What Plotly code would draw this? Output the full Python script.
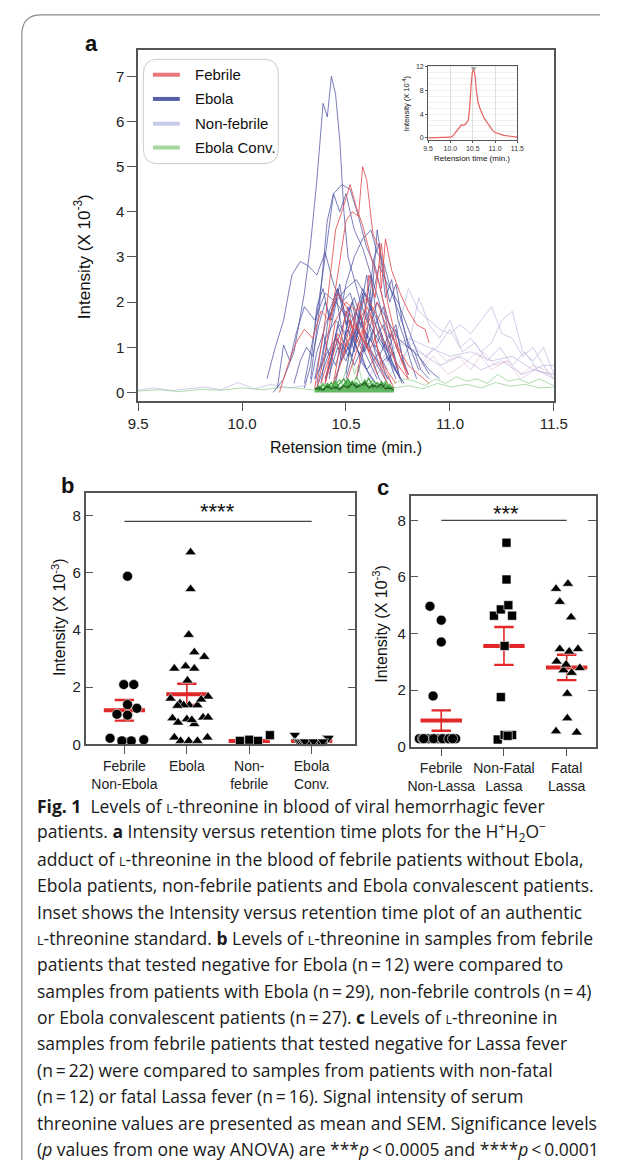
import plotly.graph_objects as go

# The page body keeps its default 8px margin, so the figure is 16px smaller than the window
# and every reference-pixel position is shifted by that margin.
PAGE_W, PAGE_H, BODY_M = 622, 1176, 8
W, H = PAGE_W - 2 * BODY_M, PAGE_H - 2 * BODY_M
def px(x): return (x - BODY_M) / W
def py(y): return 1 - (y - BODY_M) / H

# ---------------- Panel a data (retention time, intensity x10^-3) ----------------
EBOLA_TRACES = [
    ([10.15,10.20,10.25,10.30,10.33,10.36,10.39,10.41,10.43,10.45,10.47,10.49,10.51,10.54,10.57,10.60,10.65,10.70,10.75],
     [0.0,0.3,0.9,2.2,3.3,4.7,6.4,6.1,7.0,6.6,5.6,4.0,3.0,2.5,2.0,1.6,1.2,0.8,0.4]),
    ([10.30,10.35,10.40,10.44,10.48,10.52,10.56,10.60,10.64,10.68,10.72,10.76,10.80],
     [0.2,1.4,3.0,4.4,4.6,4.5,3.9,3.2,2.8,2.0,1.3,0.8,0.4]),
    ([10.33,10.37,10.41,10.44,10.47,10.50,10.54,10.58,10.62,10.66,10.70,10.75],
     [0.3,1.8,3.8,4.4,4.0,4.4,3.6,3.2,2.6,2.0,1.2,0.5]),
    ([10.12,10.16,10.20,10.24,10.28,10.32,10.36,10.40,10.44,10.48,10.52,10.56,10.60,10.65,10.70],
     [0.3,1.0,1.6,2.6,2.9,2.8,2.6,3.1,2.4,2.0,2.2,1.6,1.3,0.9,0.5]),
    ([10.40,10.45,10.50,10.54,10.58,10.62,10.65,10.68,10.72,10.76,10.80,10.85],
     [0.2,1.2,2.4,3.0,3.4,3.6,3.1,2.9,2.2,1.7,1.1,0.5]),
    ([10.35,10.40,10.45,10.50,10.55,10.60,10.65,10.70,10.75],
     [0.3,1.5,2.0,2.3,2.5,2.1,1.6,0.9,0.4]),
    ([10.17,10.20,10.23,10.26,10.30,10.35,10.40,10.45,10.50,10.55,10.60,10.65],
     [0.1,1.05,0.7,1.3,1.9,1.6,2.2,2.0,1.7,1.3,0.8,0.3]),
    ([10.38,10.42,10.46,10.50,10.54,10.58,10.62,10.66,10.70,10.74,10.78],
     [0.5,1.8,2.3,1.7,2.1,1.5,1.9,1.2,0.9,1.4,0.6]),
    ([10.36,10.40,10.45,10.50,10.55,10.60,10.65,10.70],
     [0.2,1.2,1.6,1.3,1.8,1.1,0.7,0.3]),
    ([10.40,10.44,10.48,10.52,10.56,10.60,10.64,10.68,10.72,10.76],
     [0.3,0.9,1.4,1.0,1.6,2.6,1.2,1.5,0.7,0.3]),
    ([10.50,10.54,10.58,10.62,10.66,10.70,10.75,10.80,10.85,10.90],
     [0.4,1.6,2.3,2.0,2.8,2.4,2.0,1.4,0.8,0.4]),
    ([10.35,10.40,10.45,10.50,10.55,10.60,10.65,10.70],
     [0.3,0.8,1.2,0.9,1.4,1.0,0.6,0.2]),
    ([10.42,10.46,10.50,10.54,10.58,10.62,10.66,10.70,10.74],
     [0.4,1.0,0.7,1.3,0.9,1.2,0.6,0.8,0.3]),
    ([10.55,10.60,10.65,10.70,10.75,10.80,10.85,10.90,10.95],
     [0.3,1.2,2.0,1.6,1.2,1.0,0.8,0.5,0.3]),
    ([10.30,10.33,10.36,10.39,10.42,10.45,10.48,10.51,10.54,10.57,10.60,10.63,10.66,10.69,10.72,10.75,10.78],
     [0.1,0.6,1.9,2.3,1.6,2.2,1.4,1.9,1.2,1.7,1.0,1.4,0.8,1.1,0.6,0.4,0.2]),
    ([10.38,10.41,10.44,10.47,10.50,10.53,10.56,10.59,10.62,10.65,10.68,10.71,10.74,10.77,10.80],
     [0.2,1.1,1.7,2.4,1.5,2.0,1.3,1.8,2.6,1.6,1.9,1.2,1.5,0.8,0.4]),
    ([10.40,10.43,10.46,10.49,10.52,10.55,10.58,10.61,10.64,10.67,10.70,10.73,10.76],
     [0.3,0.8,1.5,1.1,1.9,1.4,2.2,1.5,1.0,1.3,0.7,0.9,0.3]),
    ([10.45,10.48,10.51,10.54,10.57,10.60,10.63,10.66,10.69,10.72,10.75,10.78,10.81,10.84],
     [0.2,0.9,1.4,0.9,1.7,1.2,2.9,3.3,2.1,2.5,1.6,1.2,0.7,0.3]),
    ([10.33,10.36,10.39,10.42,10.45,10.48,10.51,10.54,10.57,10.60,10.63,10.66,10.70],
     [0.2,0.9,1.3,0.8,1.2,0.7,1.0,0.6,0.9,0.5,0.7,0.3,0.1]),
    ([10.25,10.28,10.31,10.34,10.37,10.40,10.43,10.46,10.49,10.52,10.55,10.58,10.61,10.64],
     [0.2,0.7,1.0,0.8,1.5,2.0,1.6,2.3,1.7,1.3,1.0,0.7,0.4,0.2]),
    ([10.50,10.53,10.56,10.59,10.62,10.65,10.68,10.71,10.74,10.77,10.80,10.83,10.86,10.90],
     [0.3,0.8,1.5,2.2,1.8,3.6,2.7,2.0,2.4,1.6,1.0,0.9,0.5,0.3]),
    ([10.42,10.45,10.48,10.51,10.54,10.57,10.60,10.63,10.66,10.69,10.72],
     [0.3,1.3,0.9,1.6,1.1,0.8,1.3,0.7,0.9,0.4,0.2]),
    ([10.44,10.47,10.50,10.53,10.56,10.59,10.62,10.65,10.68,10.71,10.74,10.77],
     [0.2,0.6,1.1,0.8,1.4,0.9,1.2,1.6,1.0,1.3,0.6,0.2]),
    ([10.36,10.39,10.42,10.45,10.48,10.51,10.54,10.57,10.60,10.63,10.66],
     [0.1,0.5,0.9,0.6,1.1,0.8,1.2,0.7,0.5,0.3,0.1]),
]
FEBRILE_TRACES = [
    ([10.36,10.40,10.45,10.50,10.53,10.56,10.58,10.60,10.63,10.66,10.67,10.69,10.72,10.76,10.80,10.84,10.88,10.90],
     [0.1,0.9,2.3,3.8,4.0,3.9,5.0,4.7,3.5,3.2,2.3,3.4,2.7,2.2,1.8,1.5,1.4,1.1]),
    ([10.35,10.40,10.45,10.48,10.52,10.55,10.58,10.62,10.66,10.70,10.75,10.80],
     [0.1,1.6,3.6,4.0,4.6,4.1,3.7,3.0,2.4,1.6,0.9,0.4]),
    ([10.18,10.22,10.26,10.30,10.34,10.38,10.42,10.46,10.50,10.55,10.60,10.65],
     [0.0,0.6,1.1,1.4,1.2,1.8,1.6,2.2,1.9,1.5,1.0,0.4]),
    ([10.40,10.45,10.50,10.55,10.60,10.65,10.70,10.75],
     [0.2,1.6,2.0,1.8,2.1,1.7,1.2,0.5]),
    ([10.45,10.50,10.55,10.60,10.65,10.70,10.75,10.80],
     [0.3,1.0,1.5,1.9,1.4,1.0,0.6,0.3]),
    ([10.38,10.42,10.46,10.50,10.54,10.58,10.62,10.66,10.70],
     [0.2,0.8,1.3,1.0,1.5,1.2,0.9,0.6,0.2]),
    ([10.50,10.55,10.60,10.65,10.70,10.75,10.80,10.85,10.90],
     [0.2,0.9,1.6,2.0,1.4,1.0,0.6,0.4,0.2]),
    ([10.40,10.43,10.46,10.49,10.52,10.55,10.58,10.61,10.64,10.67,10.70,10.73],
     [0.2,0.7,1.2,0.8,1.6,1.1,1.4,0.9,1.2,0.6,0.4,0.1]),
    ([10.44,10.47,10.50,10.53,10.56,10.59,10.62,10.65,10.68,10.71,10.74],
     [0.2,1.0,1.8,1.4,2.0,1.3,1.7,1.0,0.6,0.4,0.2]),
    ([10.55,10.58,10.61,10.64,10.67,10.70,10.73,10.76,10.80],
     [0.3,1.1,2.6,2.1,3.3,2.0,1.4,0.8,0.3]),
]
NONFEBRILE_TRACES = [
    ([10.70,10.75,10.80,10.85,10.90,10.95,11.00,11.05,11.10,11.15,11.20,11.25,11.30,11.35,11.40,11.45,11.50],
     [0.6,1.4,2.3,1.8,1.6,1.4,1.3,1.5,1.3,1.6,1.9,1.3,1.2,0.8,1.0,0.6,0.6]),
    ([10.75,10.80,10.85,10.90,10.95,11.00,11.05,11.10,11.15,11.20,11.25,11.30,11.35,11.40,11.45,11.50],
     [0.5,1.0,2.1,1.5,1.2,1.6,1.0,1.2,0.9,1.1,1.6,1.8,0.9,0.7,1.0,0.4]),
    ([10.60,10.70,10.80,10.90,11.00,11.10,11.20,11.30,11.40,11.50],
     [0.3,0.9,1.2,1.0,0.8,0.9,0.7,0.8,0.5,0.4]),
    ([10.65,10.75,10.85,10.95,11.05,11.15,11.25,11.35,11.45,11.50],
     [0.4,1.1,0.9,0.6,0.8,0.5,0.7,0.4,0.6,0.3]),
    ([10.70,10.76,10.82,10.88,10.94,11.00,11.06,11.12,11.18,11.24,11.30,11.36,11.42,11.50],
     [0.3,0.7,1.1,0.8,1.0,1.4,0.9,1.1,0.7,1.0,0.6,0.9,0.5,0.3]),
    ([9.50,9.58,9.66,9.74,9.82,9.90,9.98,10.06,10.14,10.22,10.30],
     [0.05,0.10,0.04,0.08,0.12,0.06,0.22,0.08,0.18,0.10,0.15]),
]
TAIL_TRACES = [
    ([10.80,10.86,10.92,10.98,11.04,11.10,11.16,11.22,11.28,11.34,11.40,11.46,11.50],
     [0.9,0.6,1.0,0.7,0.8,0.5,0.9,0.6,0.7,0.4,0.6,0.5,0.3]),
    ([10.85,10.92,10.99,11.06,11.13,11.20,11.27,11.34,11.41,11.48],
     [0.5,0.8,0.4,0.6,0.9,0.5,0.7,0.3,0.5,0.4]),
]
CONV_TRACES = [
    ([9.50,9.60,9.70,9.80,9.90,10.00,10.10,10.20,10.30,10.35],
     [0.03,0.06,0.02,0.07,0.05,0.10,0.06,0.12,0.08,0.05]),
    ([10.73,10.78,10.83,10.88,10.93,10.98,11.03,11.08,11.13,11.18,11.23,11.28,11.33,11.38,11.43,11.50],
     [0.20,0.30,0.25,0.15,0.30,0.20,0.35,0.25,0.30,0.20,0.40,0.25,0.30,0.20,0.30,0.15]),
    ([10.73,10.80,10.87,10.94,11.01,11.08,11.15,11.22,11.29,11.36,11.43,11.50],
     [0.10,0.15,0.08,0.20,0.12,0.18,0.10,0.22,0.14,0.18,0.10,0.12]),
    ([10.48,10.50,10.52,10.54,10.56,10.58],
     [0.20,0.50,0.90,0.40,0.60,0.20]),
]
BLOCK_RT = [10.35,10.37,10.39,10.41,10.43,10.45,10.47,10.49,10.51,10.53,
            10.55,10.57,10.59,10.61,10.63,10.65,10.67,10.69,10.71,10.73]
BLOCK_I = [
    [0.05,0.15,0.08,0.20,0.12,0.25,0.10,0.18,0.30,0.15,0.22,0.10,0.28,0.14,0.20,0.08,0.24,0.12,0.18,0.05],
    [0.10,0.05,0.18,0.10,0.22,0.08,0.20,0.30,0.12,0.25,0.10,0.20,0.15,0.32,0.10,0.22,0.10,0.20,0.08,0.12],
    [0.02,0.12,0.20,0.06,0.15,0.18,0.28,0.12,0.20,0.10,0.35,0.18,0.10,0.20,0.26,0.15,0.12,0.25,0.14,0.02],
    [0.08,0.10,0.05,0.14,0.08,0.12,0.06,0.15,0.10,0.20,0.12,0.15,0.22,0.10,0.16,0.12,0.18,0.08,0.10,0.06],
]
A_XTICKS = [9.5, 10.0, 10.5, 11.0, 11.5]
A_XTICKTEXT = ["9.5", "10.0", "10.5", "11.0", "11.5"]
A_YTICKS = [0, 1, 2, 3, 4, 5, 6, 7]
LEGEND_NAMES = ["Febrile", "Ebola", "Non-febrile", "Ebola Conv."]

# inset: authentic standard (x10^-4)
INSET_RT = [9.5,9.8,10.0,10.05,10.1,10.15,10.2,10.25,10.3,10.35,10.4,10.43,10.46,10.49,10.52,
            10.55,10.58,10.62,10.66,10.7,10.75,10.8,10.85,10.9,10.95,11.0,11.1,11.2,11.3,11.4,11.5]
INSET_I = [0,0,0.1,0.3,0.8,1.4,1.9,2.2,2.1,2.4,3.0,5.0,8.5,11.0,11.7,
           10.5,8.0,6.0,5.0,4.2,3.4,2.8,2.2,1.6,1.2,0.9,0.6,0.4,0.3,0.2,0.1]
INSET_TICKS_Y = [0, 4, 8, 12]

# ---------------- Panel b data ----------------
B_CATS = ["Febrile<br>Non-Ebola", "Ebola", "Non-<br>febrile", "Ebola<br>Conv."]
B_FEB_Y = [5.88,2.09,2.09,1.39,1.26,1.05,1.02,0.21,0.12,0.12,0.16,0.12]
B_FEB_J = [0.05,-0.01,0.15,0.05,0.20,-0.12,0.05,-0.23,-0.04,0.11,0.31,-0.04]
B_EBO_Y = [6.72,5.43,3.83,3.22,3.06,2.65,2.73,2.65,2.23,1.60,1.44,1.37,1.37,1.67,0.91,
           0.76,0.88,0.71,0.94,0.94,0.24,0.12,0.12,0.12,0.24,1.37,1.57,0.85,1.35]
B_EBO_J = [0.06,0.06,0.03,0.12,0.28,-0.20,-0.02,0.12,0.01,-0.26,-0.11,0.04,0.17,0.34,-0.23,
           -0.14,0.00,0.12,0.26,0.34,-0.20,-0.10,0.03,0.17,0.33,-0.05,0.23,0.08,-0.15]
B_NF_Y = [0.12,0.16,0.12,0.32]
B_NF_J = [-0.15,0.00,0.14,0.33]
B_CONV_Y = [0.33,0.12,0.10,0.10,0.10,0.10,0.10,0.10,0.10,0.10,0.10,0.10,0.10,0.10,
            0.10,0.10,0.10,0.10,0.12,0.24,0.22,0.10,0.10,0.10,0.10,0.10,0.10]
B_CONV_J = [-0.27,-0.22,-0.19,-0.16,-0.13,-0.10,-0.07,-0.04,-0.02,0.00,0.02,0.05,0.07,0.10,
            0.12,0.15,0.17,0.20,0.22,0.25,0.27,-0.05,0.08,0.13,-0.11,0.03,0.18]
B_MEAN = [1.19, 1.75, 0.12, 0.12]
B_SEM = [0.36, 0.37, 0.06, 0.03]
B_YTICKS = [0, 2, 4, 6, 8]
B_SIG = 7.8

# ---------------- Panel c data ----------------
C_CATS = ["Febrile<br>Non-Lassa", "Non-Fatal<br>Lassa", "Fatal<br>Lassa"]
C_FEB_Y = [4.96,4.47,3.70,1.79] + [0.28]*18
C_FEB_J = [-0.18,0.00,0.00,-0.13,-0.35,-0.30,-0.25,-0.20,-0.15,-0.10,-0.05,0.00,0.05,0.10,0.15,
           0.20,0.23,-0.28,-0.12,0.02,0.12,0.18]
C_NFL_Y = [7.21,5.91,4.63,4.85,5.00,4.63,3.56,1.75,0.25,0.41,0.41,0.38]
C_NFL_J = [0.04,0.04,-0.16,-0.05,0.07,0.13,0.01,-0.05,-0.10,0.01,0.13,0.06]
C_FL_Y = [5.58,5.76,5.12,4.57,3.45,3.36,3.45,3.01,2.70,2.61,2.78,1.87,1.00,0.54,0.50,2.90]
C_FL_J = [-0.17,0.02,-0.11,0.07,-0.11,0.04,0.18,-0.16,-0.05,0.08,0.21,0.01,0.01,-0.17,0.16,-0.01]
C_MEAN = [0.92, 3.56, 2.80]
C_SEM = [0.36, 0.67, 0.45]
C_YTICKS = [0, 2, 4, 6, 8]
C_SIG = 8.0

SC = "<span style='font-size:12.5px'>L</span>"
CAPTION = [
    "<b>Fig. 1</b>  Levels of " + SC + "-threonine in blood of viral hemorrhagic fever",
    "patients. <b>a</b> Intensity versus retention time plots for the H<sup>+</sup>H<sub>2</sub>O<sup>\u2212</sup>",
    "adduct of " + SC + "-threonine in the blood of febrile patients without Ebola,",
    "Ebola patients, non-febrile patients and Ebola convalescent patients.",
    "Inset shows the Intensity versus retention time plot of an authentic",
    SC + "-threonine standard. <b>b</b> Levels of " + SC + "-threonine in samples from febrile",
    "patients that tested negative for Ebola (n\u2009=\u200912) were compared to",
    "samples from patients with Ebola (n\u2009=\u200929), non-febrile controls (n\u2009=\u20094)",
    "or Ebola convalescent patients (n\u2009=\u200927). <b>c</b> Levels of " + SC + "-threonine in",
    "samples from febrile patients that tested negative for Lassa fever",
    "(n\u2009=\u200922) were compared to samples from patients with non-fatal",
    "(n\u2009=\u200912) or fatal Lassa fever (n\u2009=\u200916). Signal intensity of serum",
    "threonine values are presented as mean and SEM. Significance levels",
    "(<i>p</i> values from one way ANOVA) are ***<i>p</i>\u2009&lt;\u20090.0005 and ****<i>p</i>\u2009&lt;\u20090.0001",
]

# ---------------- styles ----------------
C_FEB = "rgba(228,80,80,0.85)"
C_EBO = "rgba(70,76,160,0.72)"
C_NF = "rgba(190,190,225,0.75)"
C_CONV = "rgba(140,205,140,0.7)"
C_TAIL = "rgba(215,160,200,0.45)"
LEG_COLORS = ["#e8787a", "#5560a8", "#c8cbe8", "#a6d8a0"]
RED = "#e02828"
FONT = "Liberation Sans"
AXC = "#555555"

fig = go.Figure()

def line(xs, ys, color, width=1.0, xa="x", ya="y", fill=None, fillcolor=None):
    fig.add_trace(go.Scatter(x=xs, y=ys, mode="lines", line=dict(color=color, width=width),
                             xaxis=xa, yaxis=ya, showlegend=False, hoverinfo="skip",
                             fill=fill, fillcolor=fillcolor))

for xs, ys in NONFEBRILE_TRACES:
    line(xs, ys, C_NF)
for xs, ys in TAIL_TRACES:
    line(xs, ys, C_TAIL)
for xs, ys in CONV_TRACES:
    line(xs, ys, C_CONV)
for xs, ys in EBOLA_TRACES:
    line(xs, ys, C_EBO)
for xs, ys in FEBRILE_TRACES:
    line(xs, ys, C_FEB)
block_cols = ["rgba(60,170,60,0.9)", "rgba(40,140,40,0.9)", "rgba(90,190,90,0.9)", "rgba(30,60,30,0.8)"]
for i, ys in enumerate(BLOCK_I):
    if i == 0:
        line(BLOCK_RT, ys, block_cols[i], 1.2, fill="tozeroy", fillcolor="rgba(70,170,70,0.85)")
    else:
        line(BLOCK_RT, ys, block_cols[i], 1.2)

# inset
line(INSET_RT, INSET_I, "#e86060", 1.2, xa="x2", ya="y2")
fig.add_trace(go.Scatter(x=[INSET_RT[INSET_I.index(max(INSET_I))]], y=[max(INSET_I)], mode="markers",
                         marker=dict(symbol="triangle-down", size=5, color="#999999"),
                         xaxis="x2", yaxis="y2", showlegend=False, hoverinfo="skip"))

# panel b / c scatter
def pts(cat, jit, ys, symbol, size, xa, ya):
    fig.add_trace(go.Scatter(x=[cat + j for j in jit], y=ys, mode="markers",
                             marker=dict(symbol=symbol, size=size, color="black",
                                         line=dict(color="white", width=0.6)),
                             xaxis=xa, yaxis=ya, showlegend=False, hoverinfo="skip", cliponaxis=False))

def meansem(means, sems, xa, ya):
    for i, (m, s) in enumerate(zip(means, sems)):
        line([i - 0.33, i + 0.33], [m, m], RED, 4, xa, ya)
        line([i, i], [m - s, m + s], RED, 1.6, xa, ya)
        line([i - 0.155, i + 0.155], [m + s, m + s], RED, 2.4, xa, ya)
        line([i - 0.155, i + 0.155], [m - s, m - s], RED, 2.4, xa, ya)

meansem(B_MEAN, B_SEM, "x3", "y3")
pts(0, B_FEB_J, B_FEB_Y, "circle", 10, "x3", "y3")
pts(1, B_EBO_J, B_EBO_Y, "triangle-up", 10, "x3", "y3")
pts(2, B_NF_J, B_NF_Y, "square", 9, "x3", "y3")
pts(3, B_CONV_J, B_CONV_Y, "triangle-down", 10, "x3", "y3")
line([0, 3], [B_SIG, B_SIG], "#444444", 1.3, "x3", "y3")

meansem(C_MEAN, C_SEM, "x4", "y4")
pts(0, C_FEB_J, C_FEB_Y, "circle", 10, "x4", "y4")
pts(1, C_NFL_J, C_NFL_Y, "square", 9, "x4", "y4")
pts(2, C_FL_J, C_FL_Y, "triangle-up", 10, "x4", "y4")
line([0, 2], [C_SIG, C_SIG], "#444444", 1.3, "x4", "y4")

axbase = dict(showgrid=False, zeroline=False, showline=True, linecolor=AXC, linewidth=1.5,
              mirror=True, tickcolor=AXC, tickfont=dict(family=FONT, size=15, color="#222"))

fig.update_layout(
    width=W, height=H, margin=dict(l=0, r=0, t=0, b=0),
    paper_bgcolor="white", plot_bgcolor="white", showlegend=False,
    xaxis=dict(axbase, domain=[px(133), px(566)], range=[9.5, 11.5], tickvals=A_XTICKS,
               ticktext=A_XTICKTEXT, ticks="outside", ticklen=9, anchor="y"),
    yaxis=dict(axbase, domain=[py(402), py(48)], range=[-0.18, 7.59], tickvals=A_YTICKS,
               ticks="outside", ticklen=9, anchor="x"),
    xaxis2=dict(axbase, domain=[px(435), px(528)], range=[9.5, 11.5], tickvals=A_XTICKS,
                ticktext=A_XTICKTEXT, ticks="outside", ticklen=2, anchor="y2", showgrid=True,
                gridcolor="#dddddd", linewidth=1, tickfont=dict(family=FONT, size=7, color="#333")),
    yaxis2=dict(axbase, domain=[py(139), py(64)], range=[-0.35, 12.2], tickvals=INSET_TICKS_Y,
                ticks="outside", ticklen=2, anchor="x2", linewidth=1,
                tickfont=dict(family=FONT, size=7, color="#333"),
                minor=dict(dtick=1, showgrid=True, gridcolor="#f0f0f0")),
    xaxis3=dict(axbase, domain=[px(78.5), px(359.3)], range=[-0.62, 3.70], tickvals=[0, 1, 2, 3],
                ticktext=B_CATS, ticks="outside", ticklen=8, anchor="y3", mirror=True, tickangle=0,
                tickfont=dict(family=FONT, size=14, color="#222")),
    yaxis3=dict(axbase, domain=[py(748.7), py(495)], range=[0, 8.8], tickvals=B_YTICKS,
                ticks="inside", ticklen=8, anchor="x3", mirror="ticks"),
    xaxis4=dict(axbase, domain=[px(416.7), px(610)], range=[-0.49, 2.47], tickvals=[0, 1, 2],
                ticktext=C_CATS, ticks="outside", ticklen=8, anchor="y4", mirror=True, tickangle=0,
                tickfont=dict(family=FONT, size=14, color="#222")),
    yaxis4=dict(axbase, domain=[py(751), py(498)], range=[0, 8.87], tickvals=C_YTICKS,
                ticks="inside", ticklen=8, anchor="x4", mirror="ticks"),
)

ann = []
def text(x, y, s, size, anchor="center", angle=0, bold=False, family=FONT, color="#111", yanchor="middle"):
    ann.append(dict(x=px(x), y=py(y), xref="paper", yref="paper", text=("<b>%s</b>" % s) if bold else s,
                    showarrow=False, xanchor=anchor, yanchor=yanchor, textangle=angle,
                    font=dict(family=family, size=size, color=color)))

# panel labels
text(85, 42, "a", 22, bold=True)
text(60, 488, "b", 22, bold=True)
text(388, 490, "c", 22, bold=True)
# axis titles
text(75, 257, "Intensity (X 10<sup>-3</sup>)", 17, angle=-90)
text(350, 449, "Retension time (min.)", 16)
text(412, 102, "Intensity (X 10<sup>-4</sup>)", 7.5, angle=-90)
text(481, 158, "Retension time (min.)", 8)
text(50, 620, "Intensity (X 10<sup>-3</sup>)", 16, angle=-90)
text(385, 627, "Intensity (X 10<sup>-3</sup>)", 16, angle=-90)
# significance stars
text(216, 514, "****", 22)
text(516, 516, "***", 22)
# legend
leg_y = [73.3, 97.7, 122.7, 146.7]
for name, col, yy in zip(LEGEND_NAMES, LEG_COLORS, leg_y):
    text(190, yy, name, 15, anchor="left")
# caption
CAP_FONT = "Open Sans"
for i, s in enumerate(CAPTION):
    text(26, 811 + i * 26.6, s, 17.5, anchor="left", family=CAP_FONT, color="#1a1a1a")
fig.update_layout(annotations=ann)

shapes = []
# outer rounded frame: runs off the right edge and down past the bottom of the figure
shapes.append(dict(type="path", xref="paper", yref="paper",
                   path=f"M {px(12)},0 L {px(12)},{py(33)} Q {px(12)},{py(13)} {px(32)},{py(13)} L 1,{py(13)}",
                   line=dict(color="#8a8a8a", width=1.2)))
# legend box
x0, x1, y0, y1, r = 138.5, 279, 57.7, 163, 15
shapes.append(dict(type="path", xref="paper", yref="paper",
                   path=(f"M {px(x0+r)},{py(y0)} L {px(x1-r)},{py(y0)} Q {px(x1)},{py(y0)} {px(x1)},{py(y0+r)} "
                         f"L {px(x1)},{py(y1-r)} Q {px(x1)},{py(y1)} {px(x1-r)},{py(y1)} "
                         f"L {px(x0+r)},{py(y1)} Q {px(x0)},{py(y1)} {px(x0)},{py(y1-r)} "
                         f"L {px(x0)},{py(y0+r)} Q {px(x0)},{py(y0)} {px(x0+r)},{py(y0)} Z"),
                   line=dict(color="#cccccc", width=1), fillcolor="white", layer="above"))
for col, yy in zip(LEG_COLORS, leg_y):
    shapes.append(dict(type="line", xref="paper", yref="paper", x0=px(148.5), x1=px(176.5),
                       y0=py(yy), y1=py(yy), line=dict(color=col, width=4)))
fig.update_layout(shapes=shapes)

fig.write_html("out.html", config={"displayModeBar": False})
